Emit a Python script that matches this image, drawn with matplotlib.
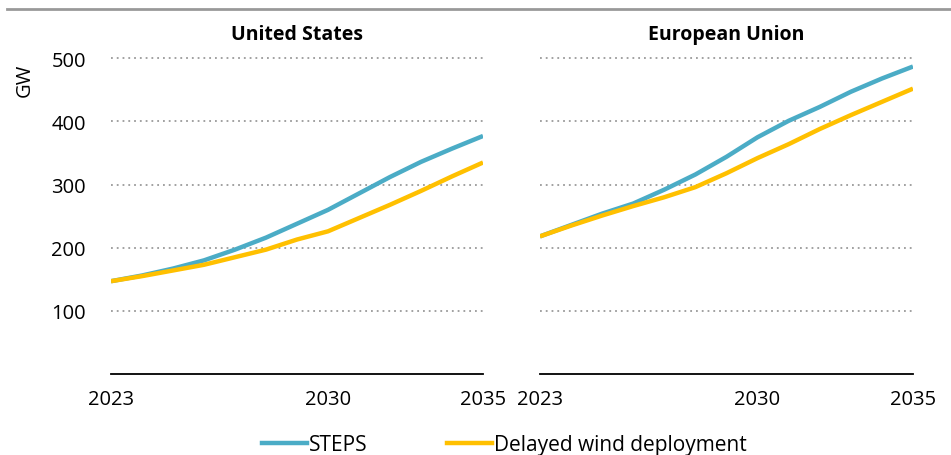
import matplotlib
matplotlib.use("Agg")
import matplotlib.pyplot as plt
from matplotlib.lines import Line2D

plt.rcParams['font.family'] = ['Open Sans', 'DejaVu Sans']

years = [2023, 2024, 2025, 2026, 2027, 2028, 2029, 2030, 2031, 2032, 2033, 2034, 2035]

# capacidade em GW
us_steps = [147, 156, 167, 180, 197, 216, 238, 260, 286, 312, 336, 357, 377]
us_delayed = [147, 155, 164, 173, 185, 197, 213, 226, 247, 268, 290, 313, 335]
eu_steps = [218, 236, 254, 270, 292, 316, 344, 375, 401, 423, 447, 468, 487]
eu_delayed = [218, 235, 251, 266, 280, 296, 318, 342, 364, 388, 410, 431, 452]

titulos = ["United States", "European Union"]
series = [(us_steps, us_delayed), (eu_steps, eu_delayed)]
nomes = ["STEPS", "Delayed wind deployment"]
cores = ["#4BACC6", "#FFC000"]
yticks = [100, 200, 300, 400, 500]
xticks = [2023, 2030, 2035]

fig = plt.figure(figsize=(9.51, 4.56), dpi=100)
posicoes = [[0.1167, 0.1776, 0.3912, 0.72], [0.5678, 0.1776, 0.3922, 0.72]]

for i, (pos, titulo, (s1, s2)) in enumerate(zip(posicoes, titulos, series)):
    ax = fig.add_axes(pos)
    ax.plot(years, s1, color=cores[0], lw=3.2, label=nomes[0], solid_capstyle='butt')
    ax.plot(years, s2, color=cores[1], lw=3.2, label=nomes[1], solid_capstyle='butt')
    ax.set_xlim(2023, 2035)
    ax.set_ylim(0, 520)
    ax.set_xticks(xticks)
    ax.set_yticks(yticks)
    ax.grid(axis='y', color='#9a9a9a', linestyle=(0, (1, 2.2)), lw=1.3)
    ax.set_axisbelow(True)
    for lado in ['top', 'right', 'left']:
        ax.spines[lado].set_visible(False)
    ax.spines['bottom'].set_linewidth(1.3)
    ax.tick_params(axis='both', length=0, labelsize=14.5)
    ax.tick_params(axis='x', pad=11)
    ax.tick_params(axis='y', pad=18)
    if i == 1:
        ax.set_yticklabels([])
    # título de cada painel, um pouco acima da linha dos 500
    ax.text(0.5, (375 - 36) / 0.63, titulo, transform=ax.get_yaxis_transform(),
            ha='center', va='center', fontsize=14, fontweight='bold')

fig.text(25 / 951, 1 - 80 / 456, "GW", rotation=90, ha='center', va='center', fontsize=14.5)

# linha cinza no topo
fig.add_artist(Line2D([7 / 951, 1], [1 - 10 / 456, 1 - 10 / 456], color='#999999', lw=2))

handles = [Line2D([], [], color=c, lw=3.2) for c in cores]
fig.legend(handles, nomes, loc='center', bbox_to_anchor=(0.5305, 1 - 446 / 456), ncol=2,
           frameon=False, fontsize=15, handlelength=2.15, handletextpad=0.12,
           columnspacing=3.8, borderaxespad=0)

fig.savefig("out.png", dpi=100)
